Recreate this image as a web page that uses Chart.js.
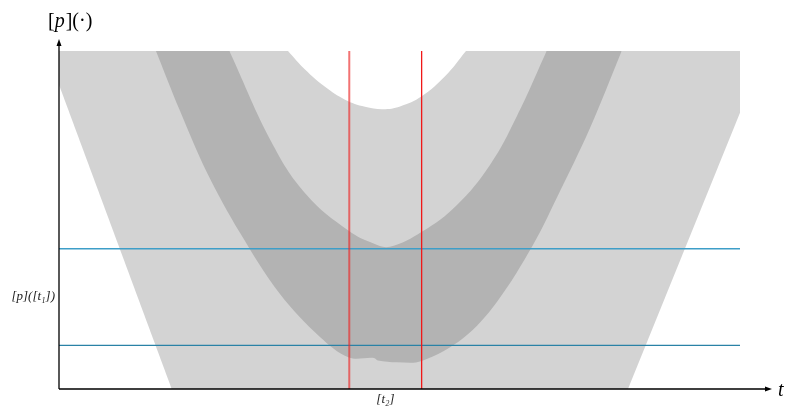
<!DOCTYPE html>
<html>
<head>
<meta charset="utf-8">
<script src="https://cdn.jsdelivr.net/npm/chart.js@4.4.1/dist/chart.umd.min.js"></script>
<style>
  html, body { margin: 0; padding: 0; background: #fff; }
  #wrap { width: 787px; height: 409px; }
</style>
</head>
<body>
<div id="wrap"><canvas id="chart_tube"></canvas></div>
<script>
// data (t on x, [p] on y)
var vee_t = [-4, -2.676, 2.684, 4];
var vee_p = [9.0, 0, 0, 8.17];

var outer_t = [-2.861, -2.579, -2.265, -1.874, -1.404, -0.934, -0.593, -0.300, -0.253, -0.029, 0.261, 0.750, 1.142, 1.568, 1.847, 2.238, 2.610];
var outer_p = [10.0, 8.23, 6.42, 4.62, 2.81, 1.54, 0.93, 0.917, 0.843, 0.79, 0.828, 1.51, 2.57, 4.26, 5.65, 7.72, 10.0];

var inner_t = [-1.999, -1.486, -1.090, -0.597, -0.311, -0.112, 0.261, 0.672, 1.063, 1.377, 1.729];
var inner_p = [10.0, 7.22, 5.74, 4.68, 4.31, 4.21, 4.65, 5.44, 6.63, 8.06, 10.0];

var top_t = [-1.310, -1.110, -0.875, -0.640, -0.405, -0.194, 0.006, 0.261, 0.535, 0.781];
var top_p = [10.0, 9.45, 8.94, 8.56, 8.35, 8.28, 8.36, 8.66, 9.25, 10.0];

var t2 = [-0.59, 0.26];
var p_t1 = [1.29, 4.15];

var t_range = [-4, 4];
var p_range = [0, 10];

function pts(xs, ys) {
  var out = [];
  for (var i = 0; i < xs.length; i++) out.push({x: xs[i], y: ys[i]});
  return out;
}

function band(data, color, order, tension) {
  return {
    data: data,
    borderWidth: 0,
    borderColor: color,
    backgroundColor: color,
    pointRadius: 0,
    fill: 'end',
    tension: tension,
    order: order
  };
}

function rule(data, color, width) {
  return {
    data: data,
    borderColor: color,
    borderWidth: width,
    pointRadius: 0,
    fill: false,
    order: 0
  };
}

// axes with arrow heads and the two axis names
var arrows = {
  id: 'arrows',
  afterDraw: function(chart) {
    var ctx = chart.ctx;
    var ca = chart.chartArea;
    var x0 = ca.left, y0 = ca.bottom;
    var xe = ca.right + 32, ye = ca.top - 12;
    ctx.save();
    ctx.strokeStyle = '#000';
    ctx.fillStyle = '#000';
    ctx.lineWidth = 1.3;
    ctx.beginPath();
    ctx.moveTo(x0, y0); ctx.lineTo(xe - 3, y0);
    ctx.moveTo(x0, y0); ctx.lineTo(x0, ye + 3);
    ctx.stroke();
    ctx.beginPath();
    ctx.moveTo(xe, y0); ctx.lineTo(xe - 7, y0 - 2.5); ctx.lineTo(xe - 7, y0 + 2.5);
    ctx.closePath(); ctx.fill();
    ctx.beginPath();
    ctx.moveTo(x0, ye); ctx.lineTo(x0 - 2.5, ye + 7); ctx.lineTo(x0 + 2.5, ye + 7);
    ctx.closePath(); ctx.fill();

    ctx.textBaseline = 'alphabetic';
    ctx.textAlign = 'left';
    ctx.font = 'italic 20px "Liberation Serif"';
    ctx.fillText('t', xe + 6, y0 + 7);

    var x = 48, y = 27;
    var parts = [['[', ''], ['p', 'italic '], [']', ''], ['(·)', '']];
    for (var i = 0; i < parts.length; i++) {
      ctx.font = parts[i][1] + '20px "Liberation Serif"';
      ctx.fillText(parts[i][0], x, y);
      x += ctx.measureText(parts[i][0]).width + (parts[i][0] == 'p' ? 1 : 0);
    }
    ctx.restore();
  }
};

var config_tube = {
  type: 'line',
  data: {
    datasets: [
      rule(pts([t2[0], t2[0]], p_range), 'rgba(235, 40, 40, 0.65)', 2),
      rule(pts([t2[1], t2[1]], p_range), '#f01818', 1.3),
      rule(pts(t_range, [p_t1[1], p_t1[1]]), '#3e9ec8', 1.5),
      rule(pts(t_range, [p_t1[0], p_t1[0]]), '#2a82a6', 1.1),
      band(pts(top_t, top_p), '#ffffff', 1, 0.4),
      band(pts(inner_t, inner_p), '#d3d3d3', 2, 0.4),
      band(pts(outer_t, outer_p), '#b3b3b3', 3, 0.35),
      band(pts(vee_t, vee_p), '#d3d3d3', 4, 0)
    ]
  },
  options: {
    responsive: true,
    maintainAspectRatio: false,
    animation: false,
    layout: {
      padding: { top: 51, right: 47, left: 0, bottom: 0 }
    },
    scales: {
      x: {
        type: 'linear',
        min: t_range[0],
        max: t_range[1],
        grid: { display: false, drawTicks: false },
        border: { display: false },
        afterBuildTicks: function(s) { s.ticks = [{value: (t2[0] + t2[1]) / 2}]; },
        afterFit: function(s) { s.height = 20; },
        ticks: {
          padding: 3,
          color: '#222',
          font: { family: 'Liberation Serif', size: 13, style: 'italic' },
          callback: function() { return '[t\u2082]'; }
        }
      },
      y: {
        min: p_range[0],
        max: p_range[1],
        grid: { display: false, drawTicks: false },
        border: { display: false },
        afterBuildTicks: function(s) { s.ticks = [{value: (p_t1[0] + p_t1[1]) / 2}]; },
        afterFit: function(s) { s.width = 59; },
        ticks: {
          padding: 4,
          color: '#222',
          font: { family: 'Liberation Serif', size: 13, style: 'italic' },
          callback: function() { return '[p]([t\u2081])'; }
        }
      }
    },
    plugins: {
      legend: { display: false },
      tooltip: { enabled: false }
    }
  },
  plugins: [arrows]
};

var chart_tube = new Chart(document.getElementById('chart_tube'), config_tube);
</script>
</body>
</html>
